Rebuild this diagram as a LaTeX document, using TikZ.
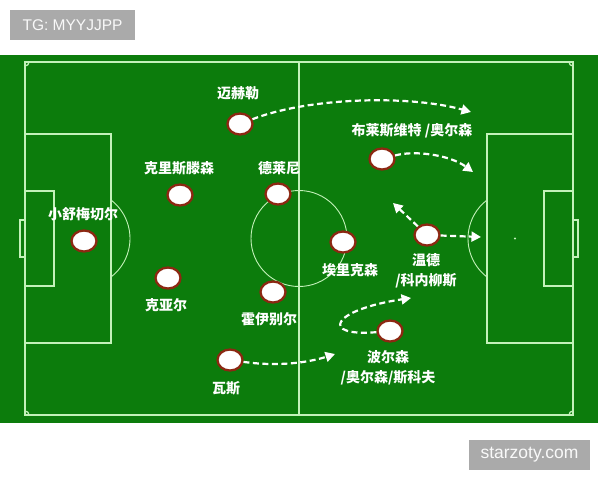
\documentclass[tikz,border=0pt]{standalone}
\usepackage{fontspec}
\setmainfont{Liberation Sans}
\newfontfamily\cjk{Noto Sans CJK SC}
\usetikzlibrary{shapes.geometric,arrows.meta}
\definecolor{pitch}{RGB}{12,124,12}
\definecolor{chalk}{RGB}{196,242,186}
\definecolor{shirt}{RGB}{140,40,18}
\definecolor{tagbg}{RGB}{170,170,170}
\begin{document}
\begin{tikzpicture}[x=1pt,y=-1pt,
  player/.style={ellipse,draw=shirt,line width=2.3pt,fill=white,minimum width=25pt,minimum height=21pt,inner sep=0pt},
  lbl/.style={text=white,font=\cjk\bfseries\fontsize{14}{20}\selectfont,inner sep=0pt,align=center},
  run/.style={white,dash pattern=on 6pt off 3.5pt,line width=2.2pt,-{Triangle[length=9.5pt,width=10pt]}},
  wmark/.style={fill=tagbg,text=white!95!gray,inner sep=0pt,minimum height=30pt}]
 \useasboundingbox (0,0) rectangle (600,480);
 % pitch
 \fill[pitch] (0,55) rectangle (598,423);
 \begin{scope}[draw=chalk,line width=1.3pt]
 \draw (25,62) rectangle (573,415);
 \draw (299,62) -- (299,415);
 \draw[line width=0.9pt] (299,238.5) circle[radius=48];
 \draw (25,134) rectangle (111,343);
 \draw (25,191) rectangle (54,286);
 \draw (25,220) rectangle (20,257);
 \draw (487,134) rectangle (573,343);
 \draw (544,191) rectangle (573,286);
 \draw (573,220) rectangle (578,257);
 \draw[line width=0.9pt] (81.5,238.5) ++(-52.5:48.5) arc[start angle=-52.5,end angle=52.5,radius=48.5];
 \draw[line width=0.9pt] (516.5,238.5) ++(127.5:48.5) arc[start angle=127.5,end angle=232.5,radius=48.5];
 \draw (29,62) arc[start angle=0,end angle=90,radius=4];
 \draw (569,62) arc[start angle=180,end angle=90,radius=4];
 \draw (29,415) arc[start angle=0,end angle=-90,radius=4];
 \draw (569,415) arc[start angle=180,end angle=270,radius=4];
 \fill[chalk] (515,238.5) circle[radius=1.2];
 \end{scope}
 % players
 \node[player] (maehle) at (240,124) {};
 \node[player] (christensen) at (180,195) {};
 \node[player] (delaney) at (278,194) {};
 \node[player] (schmeichel) at (84,241) {};
 \node[player] (kjaer) at (168,278) {};
 \node[player] (hojbjerg) at (273,292) {};
 \node[player] (wass) at (230,360) {};
 \node[player] (eriksen) at (343,242) {};
 \node[player] (wind) at (427,235) {};
 \node[player] (braithwaite) at (382,159) {};
 \node[player] (poulsen) at (390,331) {};
 % names
 \node[lbl] (n-maehle) at (238,93) {迈赫勒};
 \node[lbl] (n-christensen) at (179,168) {克里斯滕森};
 \node[lbl] (n-delaney) at (279,168) {德莱尼};
 \node[lbl] (n-schmeichel) at (83,214) {小舒梅切尔};
 \node[lbl] (n-kjaer) at (166,305) {克亚尔};
 \node[lbl] (n-hojbjerg) at (269,319) {霍伊别尔};
 \node[lbl] (n-wass) at (226,388) {瓦斯};
 \node[lbl] (n-eriksen) at (350,270) {埃里克森};
 \node[lbl] (n-braithwaite) at (412,131) {布莱斯维特 /奥尔森};
 \node[lbl] (n-wind) at (426,270.5) {温德\\/科内柳斯};
 \node[lbl] (n-poulsen) at (388,367.5) {波尔森\\/奥尔森/斯科夫};
 % runs
 \coordinate (t-maehle) at (471,112);
 \coordinate (t-braithwaite) at (473,172);
 \coordinate (t-wind-up) at (393,203);
 \coordinate (t-wind-fwd) at (481,237);
 \coordinate (t-wass) at (335,354);
 \coordinate (t-poulsen) at (411,298);
 \draw[run] (maehle) .. controls (310,97) and (410,95) .. (t-maehle);
 \draw[run] (braithwaite) .. controls (415,150) and (450,155) .. (t-braithwaite);
 \draw[run] (wind) -- (t-wind-up);
 \draw[run] (wind) -- (t-wind-fwd);
 \draw[run] (wass) .. controls (280,367) and (310,362) .. (t-wass);
 \draw[run] (poulsen) .. controls (320,337) and (330,310) .. (t-poulsen);
 % watermarks
 \node[wmark,minimum width=125pt,font=\fontsize{15.5}{17}\selectfont] (tg) at (72.5,25) {TG: MYYJJPP};
 \node[wmark,minimum width=121pt,font=\fontsize{17.5}{19}\selectfont] (site) at (529.5,455) {starzoty.com};
\end{tikzpicture}
\end{document}
